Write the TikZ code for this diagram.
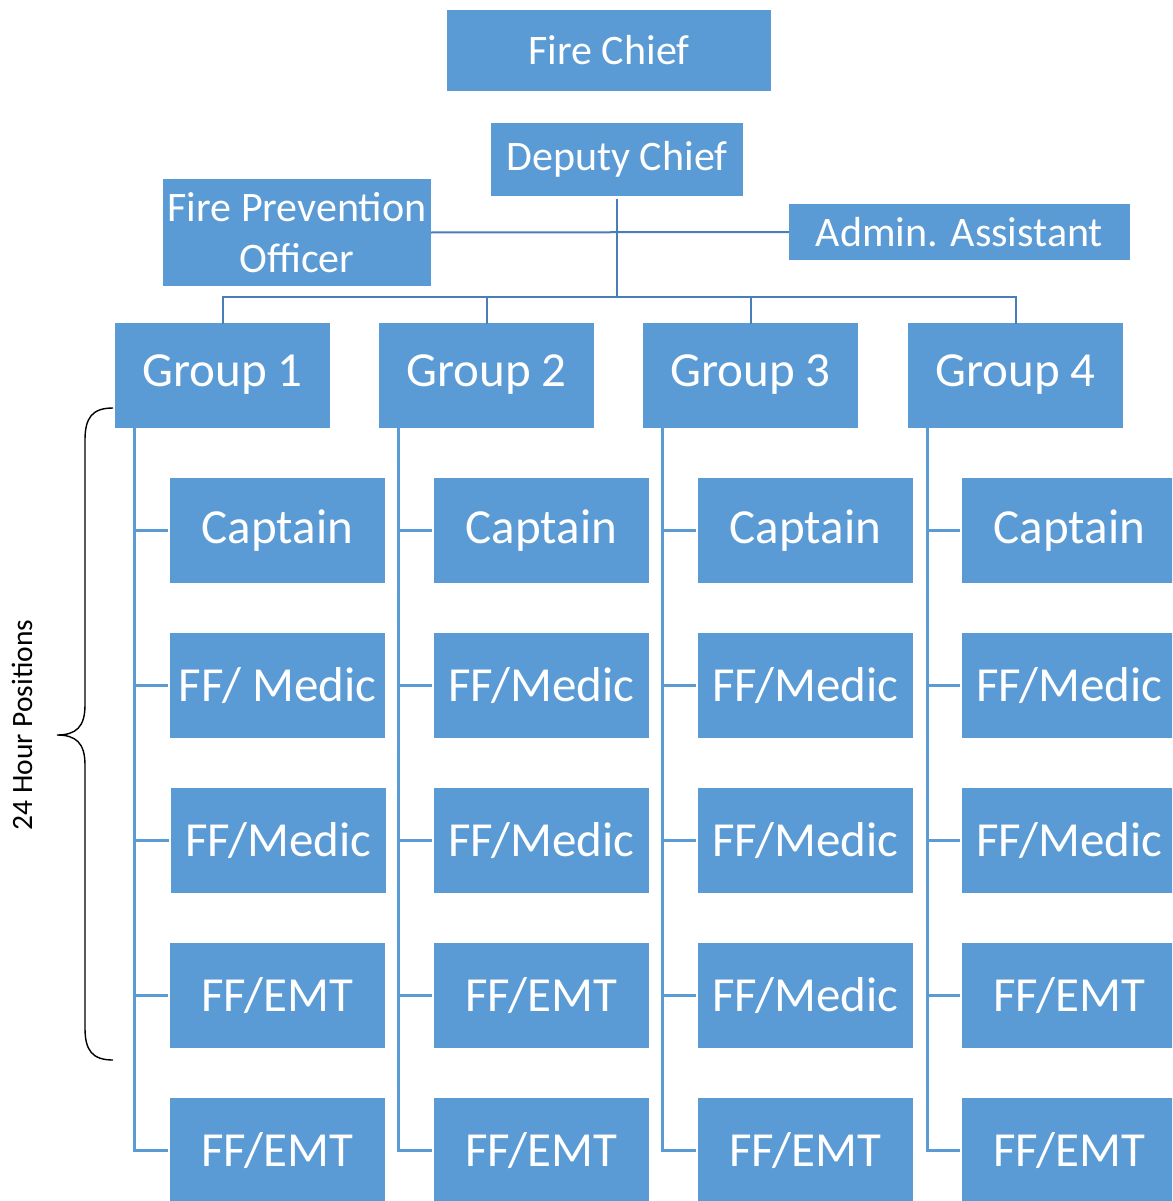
\documentclass[tikz,border=0pt]{standalone}
\usepackage{fontspec}
\setmainfont{Carlito}
\definecolor{boxblue}{HTML}{5B9BD5}
\definecolor{topline}{HTML}{4A7EBB}
\begin{document}
\begin{tikzpicture}[x=1pt,y=-1pt,
  box/.style={fill=boxblue, text=white, inner sep=0pt, align=center},
  topbox/.style={box, font=\fontsize{42}{51}\selectfont},
  bigbox/.style={box, font=\fontsize{49}{58}\selectfont, minimum width=215pt, minimum height=105pt},
  topconn/.style={draw=topline, line width=2pt},
  grpconn/.style={draw=boxblue, line width=2.8pt},
  bracestyle/.style={draw=black, line width=1.4pt}
]
\useasboundingbox (0,0) rectangle (1172,1201);
\clip (0,0) rectangle (1172,1201);

% top level
\node[topbox, minimum width=324pt, minimum height=81pt] (fc) at (609,50.5) {Fire Chief};
\node[topbox, minimum width=252pt, minimum height=73pt] (dc) at (617,159.5) {Deputy Chief};
\node[topbox, minimum width=268pt, minimum height=107pt] (fpo) at (297,232.5) {Fire Prevention\\Officer};
\node[topbox, minimum width=341pt, minimum height=56pt] (aa) at (959.5,232) {Admin. Assistant};

% groups
\node[bigbox] (g1) at (222.5,375) {Group 1};
\node[bigbox] (g2) at (486.5,375) {Group 2};
\node[bigbox] (g3) at (750.5,375) {Group 3};
\node[bigbox] (g4) at (1015.5,375) {Group 4};

% children
\foreach \c/\x in {1/277.5, 2/541.5, 3/805.5, 4/1069.5} {
  \node[bigbox] (c\c-1) at (\x,530.5) {Captain};
  \node[bigbox] (c\c-5) at (\x,1150.5) {FF/EMT};
}
\node[bigbox] (c1-2) at (277.5,685.5) {FF/ Medic};
\node[bigbox] (c1-3) at (278.5,840.5) {FF/Medic};
\node[bigbox] (c1-4) at (277.5,995.5) {FF/EMT};
\node[bigbox] (c2-2) at (541.5,685.5) {FF/Medic};
\node[bigbox] (c2-3) at (541.5,840.5) {FF/Medic};
\node[bigbox] (c2-4) at (541.5,995.5) {FF/EMT};
\node[bigbox] (c3-2) at (805.5,685.5) {FF/Medic};
\node[bigbox] (c3-3) at (805.5,840.5) {FF/Medic};
\node[bigbox] (c3-4) at (805.5,995.5) {FF/Medic};
\node[bigbox] (c4-2) at (1069.5,685.5) {FF/Medic};
\node[bigbox] (c4-3) at (1069.5,840.5) {FF/Medic};
\node[bigbox] (c4-4) at (1069.5,995.5) {FF/EMT};

% top connectors
\coordinate (bus) at (617,297);
\draw[topconn] ([yshift=-3pt]dc.south) -- (bus);
\draw[topconn] (fpo.east) -- (aa.west);
\draw[topconn] ([yshift=-2pt]g1.north) -- (g1.north |- bus) -- (g4.north |- bus) -- ([yshift=-2pt]g4.north);
\draw[topconn] ([yshift=-2pt]g2.north) -- (g2.north |- bus);
\draw[topconn] ([yshift=-2pt]g3.north) -- (g3.north |- bus);

% group connectors
\foreach \g in {1,2,3,4} {
  \coordinate (v\g) at ([xshift=20pt,yshift=3pt]g\g.south west);
  \draw[grpconn] (v\g) |- ([xshift=-2pt]c\g-5.west);
  \foreach \r in {1,2,3,4} {
    \draw[grpconn] (v\g |- c\g-\r.west) -- ([xshift=-2pt]c\g-\r.west);
  }
}

% brace
\draw[bracestyle] (113,408) .. controls (92,408) and (85,418) .. (85,440)
  -- (85,705) .. controls (85,727) and (76,735) .. (57,735)
  .. controls (76,735) and (85,743) .. (85,765)
  -- (85,1028) .. controls (85,1050) and (92,1060) .. (113,1060);
\node[rotate=90, font=\fontsize{29.5}{35}\selectfont] (lbl) at (22,725) {24 Hour Positions};
\end{tikzpicture}
\end{document}
